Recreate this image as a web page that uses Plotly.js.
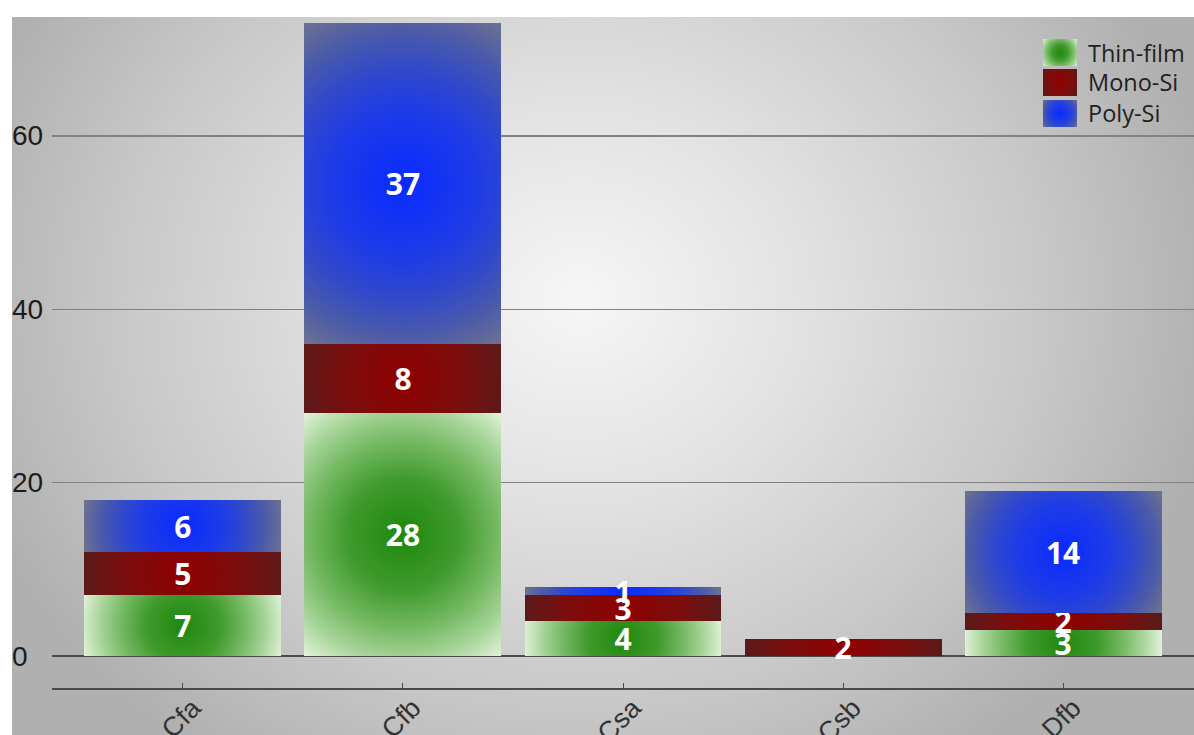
<!DOCTYPE html>
<html>
<head>
<meta charset="utf-8">
<script src="https://cdn.plot.ly/plotly-3.0.1.min.js"></script>
<style>
  html, body { margin: 0; padding: 0; background: #ffffff; }
  #chart {
    width: 1194px; height: 735px;
    background-color: #ffffff;
    background-image: radial-gradient(ellipse 640px 560px at 568px 283px, #f6f6f6 0%, #e2e2e2 35%, #c8c8c8 72%, #b0b0b0 100%);
    background-position: 12px 17px;
    background-size: 1182px 718px;
    background-repeat: no-repeat;
  }
</style>
</head>
<body>
<div id="chart"></div>
<script>
// ---- data ----
const categories = ['Cfa', 'Cfb', 'Csa', 'Csb', 'Dfb'];
const seriesNames = ['Thin-film', 'Mono-Si', 'Poly-Si'];
const thinFilm = [7, 28, 4, 0, 3];
const monoSi   = [5, 8, 3, 2, 2];
const polySi   = [6, 37, 1, 0, 14];
const yTickVals = [0, 20, 40, 60];
const yTickText = ['0', '20', '40', '60'];

// ---- styling ----
const baseColors = ['#3f9a2a', '#7a0a0a', '#1a3cf0'];
const gradStops = [
  [[0, '#1e880c'], [0.35, '#3f9a2c'], [0.6, '#74b862'], [0.8, '#a6d498'], [0.95, '#d2eac8'], [1, '#e4f2dc']],
  [[0, '#900000'], [0.6, '#7a0e0e'], [1, '#5a1a1a']],
  [[0, '#0a2aff'], [0.4, '#1e3ce6'], [0.6, '#3048cc'], [0.8, '#4a5aaa'], [1, '#6e7290']]
];
const seriesValues = [thinFilm, monoSi, polySi];

// pixel helpers for the plot frame
const W = 1194, H = 735, ML = 52, MR = 0, MT = 17, MB = 47;
const PW = W - ML - MR, PH = H - MT - MB;
const px2paperX = p => (p - ML) / PW;
const px2paperY = p => (H - MB - p) / PH;

const traces = seriesNames.map((name, i) => ({
  type: 'bar',
  name: name,
  x: categories,
  y: seriesValues[i],
  text: seriesValues[i].map(v => v ? String(v) : ''),
  textposition: 'inside',
  insidetextanchor: 'middle',
  textangle: 0,
  constraintext: 'none',
  cliponaxis: false,
  textfont: { family: 'Open Sans', size: 30, color: '#ffffff', weight: 'bold' },
  marker: { color: baseColors[i], line: { width: 0 } },
  hoverinfo: 'x+y+name'
}));

// custom legend (swatches + labels)
const legendTop = [39, 69, 100];
const shapes = seriesNames.map((n, i) => ({
  type: 'rect', xref: 'paper', yref: 'paper',
  x0: px2paperX(1043), x1: px2paperX(1077),
  y0: px2paperY(legendTop[i] + 27), y1: px2paperY(legendTop[i]),
  fillcolor: baseColors[i], line: { width: 0 }
}));
const annotations = seriesNames.map((n, i) => ({
  xref: 'paper', yref: 'paper',
  x: px2paperX(1086), y: px2paperY(legendTop[i] + 13.5),
  xanchor: 'left', yanchor: 'middle', showarrow: false,
  text: n, font: { family: 'Open Sans', size: 23.5, color: '#222222' }
})).concat(yTickVals.map((v, i) => ({
  xref: 'paper', yref: 'y',
  x: px2paperX(10), y: v,
  xanchor: 'left', yanchor: 'middle', showarrow: false,
  text: yTickText[i], font: { family: 'Liberation Sans, Arial', size: 28, color: '#1c1c1c' }
})));

const layout = {
  width: W, height: H,
  margin: { l: ML, r: MR, t: MT, b: MB, pad: 0 },
  paper_bgcolor: 'rgba(0,0,0,0)',
  plot_bgcolor: 'rgba(0,0,0,0)',
  barmode: 'stack',
  bargap: 0.105,
  showlegend: false,
  xaxis: {
    type: 'category',
    range: [-0.595, 4.595],
    showline: true, linecolor: '#4a4a4a', linewidth: 1.5,
    ticks: 'inside', ticklen: 5, tickcolor: '#4a4a4a', tickwidth: 1,
    tickangle: -45,
    ticklabelshift: 10,
    ticklabelstandoff: -8,
    tickfont: { family: 'Liberation Sans, Arial', size: 27, color: '#333333' },
    showgrid: false, zeroline: false, fixedrange: true
  },
  yaxis: {
    range: [-3.692, 73.73],
    tickvals: yTickVals,
    showticklabels: false,
    showgrid: true, gridcolor: '#828282', gridwidth: 1.2,
    zeroline: true, zerolinecolor: '#4a4a4a', zerolinewidth: 1.5,
    showline: false, ticks: '', fixedrange: true
  },
  shapes: shapes,
  annotations: annotations
};

Plotly.newPlot('chart', traces, layout, { displayModeBar: false, staticPlot: true }).then(gd => {
  const NS = 'http://www.w3.org/2000/svg';
  const svg = gd.querySelector('.main-svg');
  let defs = svg.querySelector('defs');
  if (!defs) { defs = document.createElementNS(NS, 'defs'); svg.insertBefore(defs, svg.firstChild); }
  let gid = 0;
  function applyGradient(path, series) {
    const bb = path.getBBox();
    if (!bb.width || !bb.height) return;
    const g = document.createElementNS(NS, 'radialGradient');
    const id = 'barGrad' + (gid++);
    g.setAttribute('id', id);
    g.setAttribute('gradientUnits', 'userSpaceOnUse');
    g.setAttribute('cx', bb.x + bb.width / 2);
    g.setAttribute('cy', bb.y + bb.height / 2);
    g.setAttribute('r', Math.hypot(bb.width, bb.height) / 2);
    gradStops[series].forEach(([o, c]) => {
      const s = document.createElementNS(NS, 'stop');
      s.setAttribute('offset', o); s.setAttribute('stop-color', c);
      g.appendChild(s);
    });
    defs.appendChild(g);
    path.style.fill = 'url(#' + id + ')';
  }
  gd.querySelectorAll('.barlayer .trace').forEach((t, i) => {
    t.querySelectorAll('.point path').forEach(p => applyGradient(p, i));
  });
  gd.querySelectorAll('.shapelayer path').forEach((p, i) => {
    if (i < 3) applyGradient(p, i);
  });
});
</script>
</body>
</html>
